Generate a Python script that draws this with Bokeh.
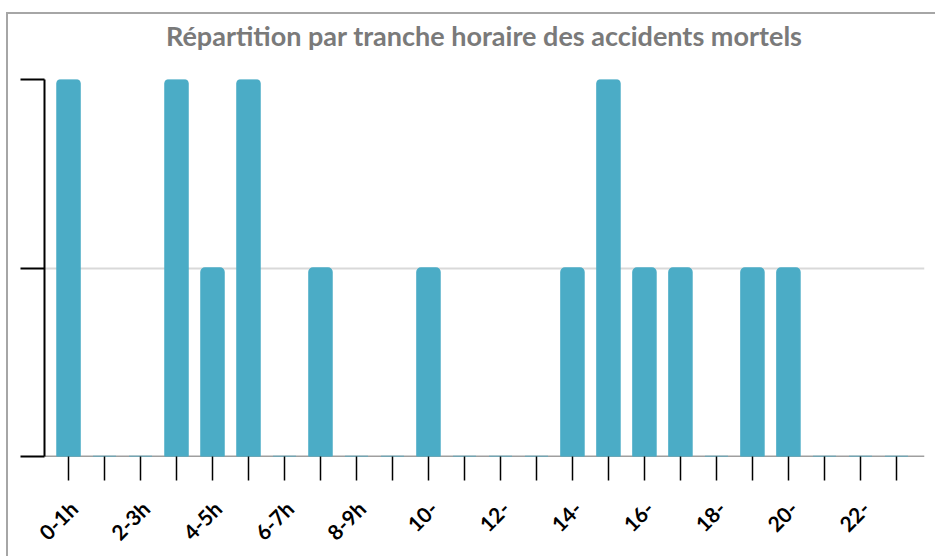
from bokeh.plotting import figure
from bokeh.models import Range1d, FixedTicker, Span, LinearAxis, Div
from bokeh.layouts import column
from bokeh.embed import file_html
from bokeh.resources import INLINE

# Data
categories = ["0-1h", "1-2h", "2-3h", "3-4h", "4-5h", "5-6h", "6-7h", "7-8h",
              "8-9h", "9-10h", "10-11h", "11-12h", "12-13h", "13-14h", "14-15h",
              "15-16h", "16-17h", "17-18h", "18-19h", "19-20h", "20-21h",
              "21-22h", "22-23h", "23-24h"]
counts = [2, 0, 0, 2, 1, 2, 0, 1, 0, 0, 1, 0, 0, 0, 1, 2, 1, 1, 0, 1, 1, 0, 0, 0]
tick_labels = ["0-1h", "", "2-3h", "", "4-5h", "", "6-7h", "", "8-9h", "",
               "10-", "", "12-", "", "14-", "", "16-", "", "18-", "", "20-", "",
               "22-", ""]
title_text = "Répartition par tranche horaire des accidents mortels"

x_pos = list(range(len(categories)))
x_start, x_end = -0.667, 23.78
label_shift = 0.14

title_div = Div(
    text=('<div style="width:927px; box-sizing:border-box; padding-left:25px; '
          'text-align:center; font-family:Lato; font-weight:bold; font-size:27px; '
          'color:#7a7a7a; line-height:44px; white-space:nowrap;">'
          + title_text + '</div>'),
    width=927, height=44, margin=0)

p = figure(width=927, height=498, output_backend="svg", toolbar_location=None,
           x_range=Range1d(x_start, x_end), y_range=Range1d(0, 2),
           min_border_left=36, min_border_right=11,
           min_border_top=21, min_border_bottom=98, margin=0)

p.outline_line_color = None
p.background_fill_color = "white"
p.border_fill_color = "white"

# x axis baseline drawn beneath the bars
p.add_layout(Span(location=0, dimension="width", line_color="#404040",
                  line_width=1.5, level="underlay"))

p.vbar(x=x_pos, top=counts, bottom=0, width=0.64, fill_color="#4BACC6",
       line_color="#4BACC6", line_width=1.5, border_radius=(4, 4, 0, 0))

# grid
p.xgrid.grid_line_color = None
p.ygrid.ticker = FixedTicker(ticks=[1, 2])
p.ygrid.grid_line_color = "#d9d9d9"
p.ygrid.grid_line_width = 2

# y axis
p.yaxis.ticker = FixedTicker(ticks=[0, 1, 2])
p.yaxis.major_label_overrides = {0: "", 1: "", 2: ""}
p.yaxis.major_tick_out = 24
p.yaxis.major_tick_in = 0
p.yaxis.minor_tick_line_color = None
p.yaxis.axis_line_color = "black"
p.yaxis.axis_line_width = 2
p.yaxis.major_tick_line_color = "black"
p.yaxis.major_tick_line_width = 2

# x axis: ticks only
p.xaxis.ticker = FixedTicker(ticks=x_pos)
p.xaxis.major_label_overrides = {i: "" for i in x_pos}
p.xaxis.major_label_standoff = 0
p.xaxis.major_tick_out = 24
p.xaxis.major_tick_in = 0
p.xaxis.minor_tick_line_color = None
p.xaxis.axis_line_color = None
p.xaxis.major_tick_line_color = "black"
p.xaxis.major_tick_line_width = 1.5

# second axis carrying the rotated labels, slightly shifted right
p.extra_x_ranges = {"lab": Range1d(x_start - label_shift, x_end - label_shift)}
lab_axis = LinearAxis(x_range_name="lab", ticker=FixedTicker(ticks=x_pos))
lab_axis.major_label_overrides = {i: lab for i, lab in zip(x_pos, tick_labels)}
lab_axis.major_label_orientation = 0.785398
lab_axis.major_tick_out = 0
lab_axis.major_tick_in = 0
lab_axis.minor_tick_line_color = None
lab_axis.axis_line_color = None
lab_axis.major_tick_line_color = None
lab_axis.major_label_text_font = "Lato"
lab_axis.major_label_text_font_style = "bold"
lab_axis.major_label_text_font_size = "21px"
lab_axis.major_label_text_color = "black"
lab_axis.major_label_standoff = 24
p.add_layout(lab_axis, "below")

layout = column(title_div, p, spacing=0)
layout.margin = (12, 0, 0, 6)
layout.styles = {"border-top": "2px solid #a6a6a6", "border-left": "2px solid #a6a6a6",
                 "background-color": "white"}

open("out.html", "w").write(file_html(layout, INLINE))
